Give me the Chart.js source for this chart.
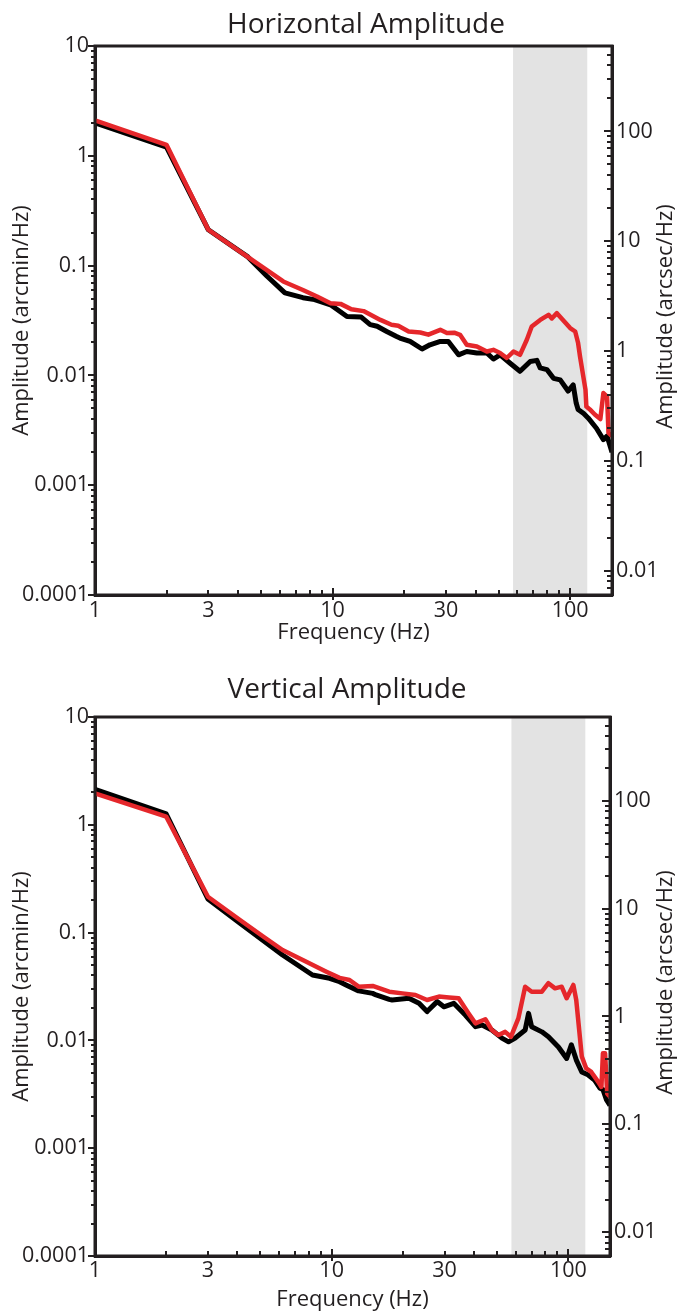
<!DOCTYPE html>
<html><head><meta charset="utf-8">
<script src="https://cdn.jsdelivr.net/npm/chart.js@4"></script>
<style>
html,body{margin:0;padding:0;background:#fff;}
body{width:678px;height:1313px;position:relative;overflow:hidden;}
canvas{position:absolute;left:0;}
</style></head>
<body>
<canvas id="hChart" width="678" height="655" style="top:0;width:678px;height:655px"></canvas>
<canvas id="vChart" width="678" height="658" style="top:655px;width:678px;height:658px"></canvas>
<script>
// ---------- data (frequency in Hz, amplitude in arcmin/Hz) ----------
const hBlackFreq = [1, 2, 3, 4.4, 5.3, 6.3, 7.5, 8.4, 9.8, 11.5, 13.2, 14.4, 15.4, 16.9, 18.6, 19.2, 21.2, 23.8, 25.7, 28.4, 30.7, 33.9, 36.7, 40.5, 44.6, 47.5, 50.7, 55.9, 61.5, 67.9, 72.4, 74.8, 79.8, 85.1, 90.8, 98, 103, 106, 108, 114, 119, 129, 138, 143, 150];
const hBlackAmp  = [2.0, 1.2, 0.212, 0.12, 0.08, 0.0565, 0.051, 0.049, 0.044, 0.0344, 0.034, 0.029, 0.028, 0.0251, 0.0226, 0.0219, 0.0204, 0.0174, 0.019, 0.0204, 0.0204, 0.0154, 0.0165, 0.016, 0.016, 0.0141, 0.0154, 0.0129, 0.0109, 0.0134, 0.0137, 0.0117, 0.0113, 0.0094, 0.0091, 0.0072, 0.0082, 0.0056, 0.0049, 0.0045, 0.0041, 0.0033, 0.0026, 0.0028, 0.002];
const hRedFreq = [1, 2, 3, 4.5, 6.2, 7.5, 8.6, 9.8, 10.8, 12.0, 13.5, 15.9, 17.7, 18.9, 20.9, 23.4, 25.3, 28.4, 30.3, 32.5, 34.4, 36.7, 40.5, 44.6, 47.5, 50.7, 54.1, 57.7, 61.5, 65.7, 68.9, 74.8, 81.1, 83.7, 87.9, 100, 105, 108, 110, 116, 117, 121, 127, 134, 138, 143, 145, 150];
const hRedAmp  = [2.1, 1.26, 0.212, 0.116, 0.0717, 0.060, 0.0523, 0.0455, 0.0448, 0.040, 0.0385, 0.032, 0.0289, 0.0283, 0.0251, 0.0246, 0.0235, 0.026, 0.0243, 0.0245, 0.0234, 0.019, 0.0183, 0.0165, 0.0171, 0.016, 0.0144, 0.0165, 0.0154, 0.0211, 0.0279, 0.032, 0.0356, 0.033, 0.0369, 0.027, 0.0251, 0.0197, 0.0149, 0.0074, 0.0052, 0.0049, 0.0044, 0.004, 0.0069, 0.0064, 0.003, 0.0028];

const vBlackFreq = [1, 2, 3, 4.1, 5.1, 6.2, 8.3, 9.8, 10.8, 11.5, 13.0, 14.9, 15.4, 17.5, 18.0, 21.2, 23.4, 25.3, 27.9, 29.8, 32.8, 36.7, 40.5, 43.2, 47.5, 52.4, 55.9, 59.6, 65.7, 67.9, 70, 77.3, 82.4, 90.8, 98.4, 103, 108, 114, 121, 129, 136, 140, 145, 150];
const vBlackAmp  = [2.13, 1.26, 0.205, 0.122, 0.0853, 0.062, 0.0404, 0.0377, 0.035, 0.0327, 0.0288, 0.0273, 0.0264, 0.024, 0.0237, 0.0246, 0.0221, 0.0185, 0.0229, 0.0205, 0.0221, 0.0172, 0.0134, 0.0139, 0.0125, 0.0105, 0.0097, 0.0105, 0.0125, 0.0178, 0.0134, 0.012, 0.0108, 0.0087, 0.0068, 0.0091, 0.0066, 0.0051, 0.0048, 0.0043, 0.0036, 0.0035, 0.0028, 0.0025];
const vRedFreq = [1, 2, 3, 4.1, 5.1, 6.2, 7.55, 9.5, 10.8, 11.9, 13.0, 14.9, 17.5, 19.9, 22.6, 25.3, 28.4, 31.3, 34.4, 37.9, 40.5, 44.6, 47.5, 50.7, 54.1, 57.2, 61.5, 65.7, 70, 77.3, 82.4, 87.9, 93.7, 98.4, 105, 108, 114, 119, 125, 134, 138, 140, 143, 146, 150];
const vRedAmp  = [1.96, 1.19, 0.215, 0.131, 0.093, 0.069, 0.0557, 0.0434, 0.038, 0.0363, 0.0315, 0.032, 0.0283, 0.0273, 0.0264, 0.0237, 0.0255, 0.025, 0.0246, 0.0178, 0.0144, 0.0157, 0.0125, 0.0112, 0.012, 0.0108, 0.016, 0.0315, 0.0283, 0.0283, 0.0339, 0.0304, 0.0315, 0.0246, 0.0327, 0.0237, 0.0071, 0.0055, 0.0051, 0.0041, 0.0037, 0.0076, 0.0076, 0.0032, 0.003];

// shaded frequency band (Hz)
const hBand = [57.5, 118];
const vBand = [57.5, 118];

// axis ranges & ticks
const xRange = [1, 150];
const yRange = [0.0001, 10];          // arcmin/Hz
const y2Range = [0.006, 600];         // arcsec/Hz
const xTickValues = [1,2,3,4,5,6,7,8,9,10,20,30,40,50,60,70,80,90,100];
const xTickLabels = ['1','3','10','30','100'];
const yTickValues = [0.0001,0.0002,0.0003,0.0004,0.0005,0.0006,0.0007,0.0008,0.0009,
  0.001,0.002,0.003,0.004,0.005,0.006,0.007,0.008,0.009,
  0.01,0.02,0.03,0.04,0.05,0.06,0.07,0.08,0.09,
  0.1,0.2,0.3,0.4,0.5,0.6,0.7,0.8,0.9,
  1,2,3,4,5,6,7,8,9,10];
const yTickLabels = ['0.0001','0.001','0.01','0.1','1','10'];
const y2TickValues = [0.006,0.007,0.008,0.009,
  0.01,0.02,0.03,0.04,0.05,0.06,0.07,0.08,0.09,
  0.1,0.2,0.3,0.4,0.5,0.6,0.7,0.8,0.9,
  1,2,3,4,5,6,7,8,9,
  10,20,30,40,50,60,70,80,90,
  100,200,300,400,500,600];
const y2TickLabels = ['0.01','0.1','1','10','100'];

// ---------- style ----------
const FONT = "'Open Sans', 'Liberation Sans', sans-serif";
const INK = '#231f20';
const RED = '#e5272b';
const BAND = '#e3e3e3';

function labelFor(list, v) {
  for (const s of list) { const n = parseFloat(s); if (Math.abs(v - n) <= n * 1e-6) return s; }
  return '';
}
function isPow10(v) { const l = Math.log10(v); return Math.abs(l - Math.round(l)) < 1e-6; }

const framePlugin = {
  id: 'frame',
  beforeDatasetsDraw(chart) {
    const o = chart.options.plugins.frame;
    const {ctx, chartArea: a, scales: {x}} = chart;
    const x0 = x.getPixelForValue(o.band[0]), x1 = x.getPixelForValue(o.band[1]);
    ctx.save();
    ctx.fillStyle = BAND;
    ctx.fillRect(x0, a.top, x1 - x0, a.bottom - a.top);
    ctx.restore();
  },
  afterDraw(chart) {
    const o = chart.options.plugins.frame;
    const {ctx, chartArea: a, scales} = chart;
    ctx.save();
    ctx.strokeStyle = INK; ctx.lineWidth = 3;
    ctx.strokeRect(a.left, a.top, a.right - a.left, a.bottom - a.top);
    ctx.lineWidth = 2;
    ctx.beginPath();
    for (const v of yTickValues) {
      const p = Math.round(scales.y.getPixelForValue(v));
      const len = isPow10(v) ? 7 : 4;
      ctx.moveTo(a.left - len, p); ctx.lineTo(a.left, p);
    }
    for (const v of y2TickValues) {
      const p = Math.round(scales.y2.getPixelForValue(v));
      const len = isPow10(v) ? 8 : 5;
      ctx.moveTo(a.right - len, p); ctx.lineTo(a.right, p);
    }
    for (const v of xTickValues) {
      const p = Math.round(scales.x.getPixelForValue(v));
      const up = isPow10(v) ? 7 : 5;
      const down = isPow10(v) && v > 1 ? 5 : 0;
      ctx.moveTo(p, a.bottom - up); ctx.lineTo(p, a.bottom + down);
    }
    ctx.stroke();
    ctx.fillStyle = INK;
    ctx.font = '28px ' + FONT;
    ctx.textAlign = 'center'; ctx.textBaseline = 'alphabetic';
    ctx.fillText(o.title, o.titleX, o.titleY);
    ctx.font = '22px ' + FONT;
    ctx.translate(o.rightTitleX, (a.top + a.bottom) / 2 - 4);
    ctx.rotate(-Math.PI / 2);
    ctx.textBaseline = 'middle';
    ctx.fillText('Amplitude (arcsec/Hz)', 0, 0);
    ctx.restore();
  }
};

function makeChart(id, cfg) {
  const tickFont = {family: FONT, size: 21.5};
  const titleFont = {family: FONT, size: 22};
  return new Chart(document.getElementById(id), {
    type: 'line',
    data: {
      datasets: [
        { label: 'red', data: cfg.redF.map((f, i) => ({x: f, y: cfg.redA[i]})),
          borderColor: RED, borderWidth: 4.5, pointRadius: 0, tension: 0, fill: false,
          borderJoinStyle: 'round', yAxisID: 'y' },
        { label: 'black', data: cfg.blackF.map((f, i) => ({x: f, y: cfg.blackA[i]})),
          borderColor: '#000', borderWidth: 5, pointRadius: 0, tension: 0, fill: false,
          borderJoinStyle: 'round', yAxisID: 'y' }
      ]
    },
    options: {
      responsive: false, animation: false, events: [],
      layout: {padding: {top: cfg.padTop, left: 0, right: 0, bottom: 0}},
      plugins: {
        legend: {display: false}, tooltip: {enabled: false}, title: {display: false},
        frame: {band: cfg.band, title: cfg.title, titleX: cfg.titleX, titleY: cfg.titleY, rightTitleX: 666}
      },
      scales: {
        x: {
          type: 'logarithmic', position: 'bottom', min: xRange[0], max: xRange[1],
          afterBuildTicks: s => { s.ticks = xTickValues.map(v => ({value: v})); },
          afterFit: s => { s.height = cfg.xAxisH; },
          ticks: {autoSkip: false, maxRotation: 0, minRotation: 0, padding: cfg.xTickPad, color: INK, font: tickFont,
                  callback: v => labelFor(xTickLabels, v)},
          grid: {display: false, drawTicks: false},
          border: {display: true, color: INK, width: 3},
          title: {display: true, text: 'Frequency (Hz)', color: INK, font: titleFont,
                  padding: {top: 0, bottom: cfg.xTitlePad}}
        },
        y: {
          type: 'logarithmic', position: 'left', min: yRange[0], max: yRange[1],
          afterBuildTicks: s => { s.ticks = yTickValues.map(v => ({value: v})); },
          afterFit: s => { s.width = 95; },
          ticks: {autoSkip: false, padding: 6, color: INK, font: tickFont,
                  callback: v => labelFor(yTickLabels, v)},
          grid: {display: false, drawTicks: false},
          border: {display: true, color: INK, width: 3},
          title: {display: true, text: 'Amplitude (arcmin/Hz)', color: INK, font: titleFont,
                  padding: {top: 9, bottom: 0}}
        },
        y2: {
          type: 'logarithmic', position: 'right', min: y2Range[0], max: y2Range[1],
          afterBuildTicks: s => { s.ticks = y2TickValues.map(v => ({value: v})); },
          afterFit: s => { s.width = cfg.rightW; },
          ticks: {autoSkip: false, padding: 4, color: INK, font: tickFont,
                  callback: v => labelFor(y2TickLabels, v)},
          grid: {display: false, drawTicks: false},
          border: {display: true, color: INK, width: 3}
        }
      }
    },
    plugins: [framePlugin]
  });
}

makeChart('hChart', {
  title: 'Horizontal Amplitude', titleX: 366, titleY: 33,
  band: hBand, padTop: 46, xAxisH: 60, xTickPad: 3, xTitlePad: 9, rightW: 66,
  blackF: hBlackFreq, blackA: hBlackAmp, redF: hRedFreq, redA: hRedAmp
});
makeChart('vChart', {
  title: 'Vertical Amplitude', titleX: 347, titleY: 43,
  band: vBand, padTop: 62, xAxisH: 57, xTickPad: 2, xTitlePad: 0, rightW: 68,
  blackF: vBlackFreq, blackA: vBlackAmp, redF: vRedFreq, redA: vRedAmp
});
</script>
</body></html>
